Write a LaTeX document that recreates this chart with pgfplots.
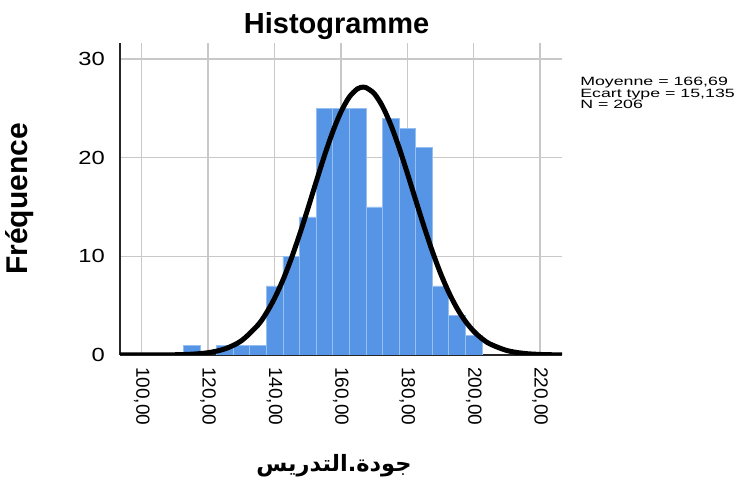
\documentclass[border=0pt]{standalone}
\usepackage{pgfplots}
\pgfplotsset{compat=1.18}
\usepackage{fontspec}
\setmainfont{Liberation Sans}
\newfontfamily\arabicfont[Script=Arabic]{DejaVu Sans}
\TeXXeTstate=1
\definecolor{barblue}{RGB}{86,148,229}
\definecolor{baredge}{RGB}{150,190,240}
\definecolor{gridgray}{RGB}{200,200,200}
\begin{document}
\begin{tikzpicture}
\useasboundingbox (-120pt,-131pt) rectangle (616pt,355pt);
\begin{axis}[
  at={(0pt,0pt)}, anchor=south west,
  scale only axis, width=442pt, height=312pt,
  xmin=93.46, xmax=226.6, ymin=0, ymax=31.62,
  axis lines=left,
  axis line style={-, line width=1.3pt, black!85},
  xmajorgrids, ymajorgrids,
  grid style={gridgray, line width=1.3pt},
  major tick length=0pt,
  tick style={draw=none},
  xtick={100,120,140,160,180,200,220},
  xticklabels={{100,00},{120,00},{140,00},{160,00},{180,00},{200,00},{220,00}},
  xticklabel style={font=\fontsize{19}{20}\selectfont, rotate=-90, anchor=west, inner xsep=12pt, inner ysep=0pt},
  ytick={0,10,20,30},
  yticklabels={0,10,20,30},
  yticklabel style={font=\fontsize{19}{20}\selectfont, anchor=east, inner sep=0pt, xshift=-15pt, xscale=1.25},
  title={\bfseries Histogramme},
  title style={font=\fontsize{29}{31}\selectfont, anchor=base, at={(axis description cs:0.49,1)}, yshift=3pt},
  ylabel={\bfseries Fréquence},
  ylabel style={font=\fontsize{30}{32}\selectfont, at={(axis description cs:-0.2262,0.5)}, anchor=center},
  xlabel={\arabicfont\bfseries\beginR جودة.التدريس\endR},
  xlabel style={font=\fontsize{22.5}{24}\selectfont, at={(axis description cs:0.484,0)}, anchor=center, yshift=-111pt},
]
\addplot[ybar interval, fill=barblue, draw=baredge, line width=0.6pt]
  coordinates {(112.5,1)(117.5,1)};
\addplot[ybar interval, fill=barblue, draw=baredge, line width=0.6pt]
  coordinates {(122.5,1)(127.5,1)(132.5,1)(137.5,7)(142.5,10)(147.5,14)(152.5,25)(157.5,25)(162.5,25)(167.5,15)(172.5,24)(177.5,23)(182.5,21)(187.5,7)(192.5,4)(197.5,2)(202.5,2)};
\addplot[smooth, black, line width=5pt, line join=round]
  coordinates {(93.46,0.0002)(95,0.0004)(100,0.0016)(105,0.0067)(110,0.0244)(115,0.0796)(120,0.233)(125,0.611)(130,1.438)(135,3.033)(137.5,4.228)(140,5.735)(142.5,7.569)(145,9.723)(147.5,12.15)(150,14.78)(152.5,17.50)(155,20.15)(157.5,22.58)(160,24.62)(162.5,26.13)(165,26.98)(166.69,27.15)(167.5,27.11)(170,26.51)(172.5,25.22)(175,23.35)(177.5,21.04)(180,18.44)(182.5,15.73)(185,13.06)(187.5,10.55)(190,8.29)(192.5,6.343)(195,4.72)(197.5,3.418)(200,2.410)(202.5,1.653)(205,1.103)(210,0.453)(215,0.166)(220,0.055)(225,0.016)(226.6,0.012)};
\end{axis}
\node[anchor=north west, align=left, inner sep=0pt, font=\fontsize{12}{11.5}\selectfont, xscale=1.48] at (460pt,278pt) {Moyenne = 166,69\\Ecart type = 15,135\\N = 206};
\end{tikzpicture}
\end{document}
